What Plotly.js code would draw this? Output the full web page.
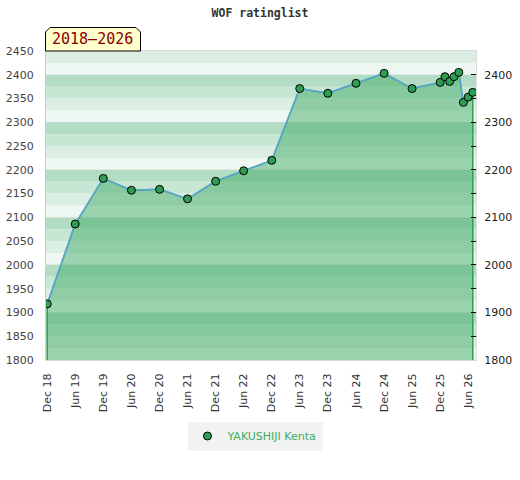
<!DOCTYPE html>
<html>
<head>
<meta charset="utf-8">
<script src="https://cdn.plot.ly/plotly-3.0.1.min.js"></script>
<style>
  html, body { margin: 0; padding: 0; background: #ffffff; }
  #chart { width: 520px; height: 480px; }
</style>
</head>
<body>
<div id="chart"></div>
<script>
// ---- data ----
const chartTitle = 'WOF ratinglist';
const periodLabel = '2018–2026';
const playerName = 'YAKUSHIJI Kenta';
const dates = [
  '2018-12-01', '2019-06-01', '2019-12-01', '2020-06-01', '2020-12-01',
  '2021-06-01', '2021-12-01', '2022-06-01', '2022-12-01', '2023-06-01',
  '2023-12-01', '2024-06-01', '2024-12-01', '2025-06-01', '2025-12-01',
  '2026-01-01', '2026-02-01', '2026-03-01', '2026-04-01', '2026-05-01',
  '2026-06-01', '2026-07-01'
];
const ratings = [
  1918, 2086, 2182, 2157, 2159,
  2139, 2176, 2198, 2220, 2371,
  2361, 2382, 2403, 2371, 2384,
  2396, 2386, 2396, 2405, 2342,
  2353, 2363
];
const leftTickVals = [1800, 1850, 1900, 1950, 2000, 2050, 2100, 2150, 2200, 2250, 2300, 2350, 2400, 2450];
const rightTickVals = [1800, 1900, 2000, 2100, 2200, 2300, 2400];
const rightMinorTickVals = [1850, 1950, 2050, 2150, 2250, 2350];
const ratingMin = 1800;
const ratingMax = 2450;

// ---- layout geometry ----
const W = 520, H = 480;
const M = { l: 46, r: 44, t: 51, b: 120 };
const PW = W - M.l - M.r, PH = H - M.t - M.b;
const px2x = p => (p - M.l) / PW;
const py2y = p => (H - M.b - p) / PH;

// background bands (decoration), 25-point steps, 4 shades per 100
const bandColors = ['#eff7f2', '#dcede3', '#c7e6d3', '#b3dcc4'];
const shapes = [];
for (let v = ratingMin, i = 0; v < ratingMax; v += 25, i++) {
  shapes.push({
    type: 'rect', xref: 'paper', yref: 'y', x0: 0, x1: 1, y0: v, y1: v + 25,
    fillcolor: bandColors[i % 4], line: { width: 0 }, layer: 'below'
  });
}
// period label box with chamfered top corners
const bx0 = px2x(45.5), bx1 = px2x(140.5), bxc0 = px2x(50), bxc1 = px2x(136);
const by0 = py2y(51), by1 = py2y(27.5), byc = py2y(32);
shapes.push({
  type: 'path', xref: 'paper', yref: 'paper', layer: 'above',
  path: `M ${bx0} ${by0} L ${bx0} ${byc} L ${bxc0} ${by1} L ${bxc1} ${by1} L ${bx1} ${byc} L ${bx1} ${by0} Z`,
  fillcolor: '#ffffcc', line: { color: '#000000', width: 1 }
});

// ---- traces ----
const areaX = [dates[0]].concat(dates, [dates[dates.length - 1]]);
const areaY = [ratingMin].concat(ratings, [ratingMin]);

const traces = [
  {
    type: 'scatter', mode: 'lines', x: areaX, y: areaY, fill: 'toself',
    fillcolor: 'rgba(59,170,98,0.47)',
    line: { color: '#2ea14f', width: 1.5 },
    hoverinfo: 'skip', showlegend: false
  },
  {
    type: 'scatter', mode: 'lines', x: dates, y: ratings, yaxis: 'y2',
    line: { color: '#5ca4dc', width: 1.5 },
    showlegend: false, hoverinfo: 'skip'
  },
  {
    type: 'scatter', mode: 'markers', x: dates, y: ratings, yaxis: 'y2',
    name: playerName,
    marker: { color: '#2e9d52', size: 8, line: { color: '#000000', width: 1 } }
  }
];

const layout = {
  width: W, height: H,
  margin: { l: M.l, r: M.r, t: M.t, b: M.b, pad: 0, autoexpand: false },
  paper_bgcolor: '#ffffff',
  plot_bgcolor: 'rgba(0,0,0,0)',
  title: {
    text: chartTitle, x: 0.5, xanchor: 'center', y: 1 - 13 / H, yanchor: 'middle',
    font: { family: 'DejaVu Sans Mono', size: 11.5, color: '#333333', weight: 'bold' }
  },
  showlegend: true,
  legend: {
    orientation: 'h', x: px2x(255), xanchor: 'center', y: py2y(436), yanchor: 'middle',
    bgcolor: '#f2f2f2', borderwidth: 0,
    font: { family: 'DejaVu Sans', size: 11, color: '#3aae5f' }
  },
  xaxis: {
    type: 'date',
    range: ['2018-11-23', '2026-07-22'],
    tick0: '2018-12-01', dtick: 'M6', tickformat: '%b %y',
    tickangle: -90,
    ticks: 'outside', ticklen: 8, tickcolor: 'rgba(0,0,0,0)',
    tickfont: { family: 'DejaVu Sans', size: 11, color: '#333333' },
    showgrid: false, zeroline: false,
    showline: true, linecolor: '#d8d8d8', linewidth: 1, mirror: true,
    fixedrange: true
  },
  yaxis: {
    range: [ratingMin, ratingMax],
    tickmode: 'array', tickvals: leftTickVals,
    ticks: 'outside', ticklen: 9, tickcolor: 'rgba(0,0,0,0)',
    tickfont: { family: 'DejaVu Sans', size: 11, color: '#444444' },
    showgrid: false, zeroline: false,
    showline: true, linecolor: '#cccccc', linewidth: 1,
    fixedrange: true
  },
  yaxis2: {
    overlaying: 'y', side: 'right',
    range: [ratingMin, ratingMax],
    tickmode: 'array', tickvals: rightTickVals,
    ticks: 'inside', ticklen: 5, tickcolor: '#000000', tickwidth: 1,
    ticklabelstandoff: 5,
    minor: { tickmode: 'array', tickvals: rightMinorTickVals, ticks: 'inside', ticklen: 5, tickcolor: '#000000', showgrid: false },
    tickfont: { family: 'DejaVu Sans', size: 11, color: '#222222' },
    showgrid: true, gridcolor: 'rgba(0,0,0,0.06)', gridwidth: 1,
    zeroline: false,
    showline: true, linecolor: '#dddddd', linewidth: 1,
    fixedrange: true
  },
  shapes: shapes,
  annotations: [{
    text: periodLabel, xref: 'paper', yref: 'paper',
    x: px2x(92), y: py2y(39.5), xanchor: 'center', yanchor: 'middle',
    showarrow: false,
    font: { family: 'DejaVu Sans Mono', size: 15, color: '#8b0000' }
  }]
};

Plotly.newPlot('chart', traces, layout, { displayModeBar: false, staticPlot: true });
</script>
</body>
</html>
